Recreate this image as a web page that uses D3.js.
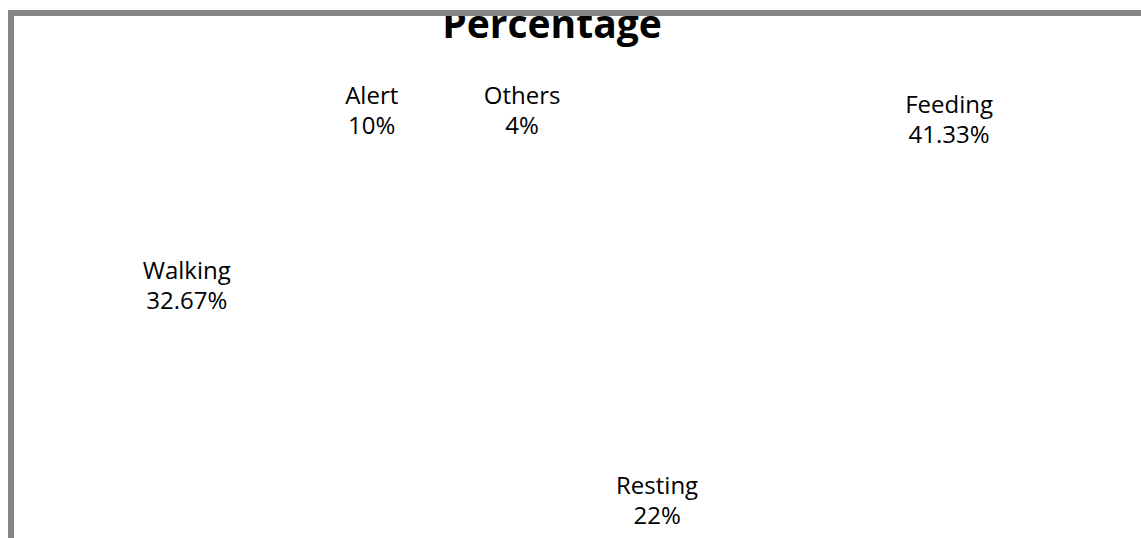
<!DOCTYPE html>
<html>
<head>
<meta charset="utf-8">
<script src="https://cdn.jsdelivr.net/npm/d3@7"></script>
<style>
  html, body { margin: 0; padding: 0; background: #fff; overflow: hidden; }
</style>
</head>
<body>
<div id="chart"></div>
<script>
// behaviour shares
const categories = ["Feeding", "Resting", "Walking", "Alert", "Others"];
const values = [41.33, 22, 32.67, 10, 4];
const valueLabels = ["41.33%", "22%", "32.67%", "10%", "4%"];
const title = "Percentage";

const W = 1141, H = 538;

const svg = d3.select("#chart")
  .append("svg")
  .attr("width", W)
  .attr("height", H);

// pie is tilted (3D look), so it projects to an ellipse
const cx = 582, cy = 232, rx = 403, ry = 273;
const labelTop = 111;
const rot = -2 * Math.PI / 180;

const pie = d3.pie().sort(null).value(d => d.value)
  .startAngle(rot).endAngle(rot + 2 * Math.PI);

const arcs = pie(categories.map((c, i) => ({ name: c, value: values[i], label: valueLabels[i] })));

const unitArc = d3.arc().innerRadius(0).outerRadius(1);
const labelArc = d3.arc().innerRadius(1).outerRadius(1);

const x = d3.scaleLinear().domain([-1, 1]).range([cx - rx, cx + rx]);
const y = d3.scaleLinear().domain([-1, 1]).range([cy - ry, cy + ry]);

// slices are white on white in the original
const pieG = svg.append("g")
  .attr("transform", `translate(${cx},${cy}) scale(${rx * 0.5},${ry * 0.5})`);
pieG.selectAll("path")
  .data(arcs)
  .join("path")
  .attr("d", unitArc)
  .attr("fill", "#fff")
  .attr("stroke", "none");

const labels = svg.append("g")
  .attr("font-family", "'Open Sans', sans-serif")
  .attr("font-size", 24)
  .attr("fill", "#000")
  .attr("text-anchor", "middle");

labels.selectAll("text")
  .data(arcs)
  .join("text")
  .each(function(d) {
    const [ux, uy] = labelArc.centroid(d);
    const px = x(ux);
    const py = Math.max(labelTop, y(uy));
    const t = d3.select(this).attr("transform", `translate(${px},${py})`);
    t.append("tspan").attr("x", 0).attr("y", -15).attr("dy", "0.35em").text(d.data.name);
    t.append("tspan").attr("x", 0).attr("y", 15).attr("dy", "0.35em").text(d.data.label);
  });

svg.append("text")
  .attr("x", 552)
  .attr("y", 38)
  .attr("text-anchor", "middle")
  .attr("font-family", "'Open Sans', sans-serif")
  .attr("font-weight", "bold")
  .attr("font-size", 39)
  .attr("fill", "#000")
  .text(title);

// chart area border (only top and left edges are in view)
svg.append("rect")
  .attr("x", 11)
  .attr("y", 13)
  .attr("width", W + 20)
  .attr("height", H + 20)
  .attr("fill", "none")
  .attr("stroke", "#868686")
  .attr("stroke-width", 6);
</script>
</body>
</html>
